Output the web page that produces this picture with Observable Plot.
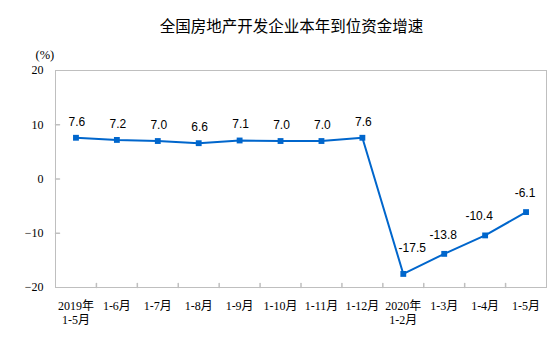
<!DOCTYPE html>
<html>
<head>
<meta charset="utf-8">
<script src="https://cdn.jsdelivr.net/npm/d3@7"></script>
<script src="https://cdn.jsdelivr.net/npm/@observablehq/plot@0.6"></script>
<style>
  html, body { margin: 0; padding: 0; background: #fff; }
  #title { width: 554px; height: 40px; box-sizing: border-box; padding-top: 18px; padding-left: 29px; text-align: center;
           font-family: "Noto Sans CJK SC", sans-serif; font-size: 15.5px; line-height: 15px; color: #000; }
  svg { display: block; }
</style>
</head>
<body>
<div id="title">全国房地产开发企业本年到位资金增速</div>
<div id="chart"></div>
<script>
const categories = ["2019年\n1-5月", "1-6月", "1-7月", "1-8月", "1-9月", "1-10月", "1-11月", "1-12月", "2020年\n1-2月", "1-3月", "1-4月", "1-5月"];
const values = [7.6, 7.2, 7.0, 6.6, 7.1, 7.0, 7.0, 7.6, -17.5, -13.8, -10.4, -6.1];
const yTicks = [-20, -10, 0, 10, 20];
const unitLabel = "(%)";

const data = categories.map((c, i) => ({i, c, v: values[i]}));
const boundaries = d3.range(categories.length - 1).map(i => i + 0.5);
const blue = "#0066cc";
const gray = "#bfbfbf";
const tickShape = {draw(ctx, l) { ctx.moveTo(0, 0); ctx.lineTo(0, -l); }};
const labelFont = {fontFamily: "Liberation Sans, Arial, sans-serif", fontSize: 12, fill: "#000"};
const fmt = d => d.v.toFixed(1);

const chart = Plot.plot({
  width: 554,
  height: 310,
  marginTop: 30,
  marginLeft: 55,
  marginRight: 8,
  marginBottom: 63,
  x: {domain: [-0.5, categories.length - 0.5]},
  y: {domain: [-20, 20]},
  marks: [
    Plot.frame({stroke: gray}),
    Plot.axisY({ticks: yTicks, tickSize: 0, tickPadding: 12, label: null,
      fontFamily: "Liberation Serif, serif", fontSize: 12, fill: "#000"}),
    Plot.vector(yTicks.slice(1, -1), {y: d => d, frameAnchor: "left", rotate: 90, length: 4, anchor: "start", shape: tickShape, stroke: gray}),
    Plot.vector(boundaries, {x: d => d, frameAnchor: "bottom", rotate: 0, length: 4, anchor: "start", shape: tickShape, stroke: gray}),
    Plot.axisX({ticks: d3.range(categories.length), tickFormat: i => categories[i], tickSize: 0, tickPadding: 12,
      label: null, lineHeight: 1.2, fontFamily: "Liberation Serif, Noto Sans CJK SC, serif", fontSize: 12, fill: "#000"}),
    Plot.text([unitLabel], {frameAnchor: "top-left", dx: -20, dy: -20, text: d => d,
      fontFamily: "Liberation Serif, Noto Sans CJK SC, serif", fontSize: 12.5, fill: "#000"}),
    Plot.line(data, {x: "i", y: "v", stroke: blue, strokeWidth: 2}),
    Plot.dot(data, {x: "i", y: "v", symbol: "square", r: 3.3, fill: blue}),
    Plot.text(data.filter(d => d.i < 8), {x: "i", y: "v", text: fmt, dy: -16, dx: 1, ...labelFont}),
    Plot.text(data.filter(d => d.i === 8), {x: "i", y: "v", text: fmt, dy: -26, dx: 9, ...labelFont}),
    Plot.text(data.filter(d => d.i === 9 || d.i === 11), {x: "i", y: "v", text: fmt, dy: -19, dx: -1, ...labelFont}),
    Plot.text(data.filter(d => d.i === 10), {x: "i", y: "v", text: fmt, dy: -19, dx: -6, ...labelFont})
  ]
});
document.getElementById("chart").appendChild(chart);
</script>
</body>
</html>
